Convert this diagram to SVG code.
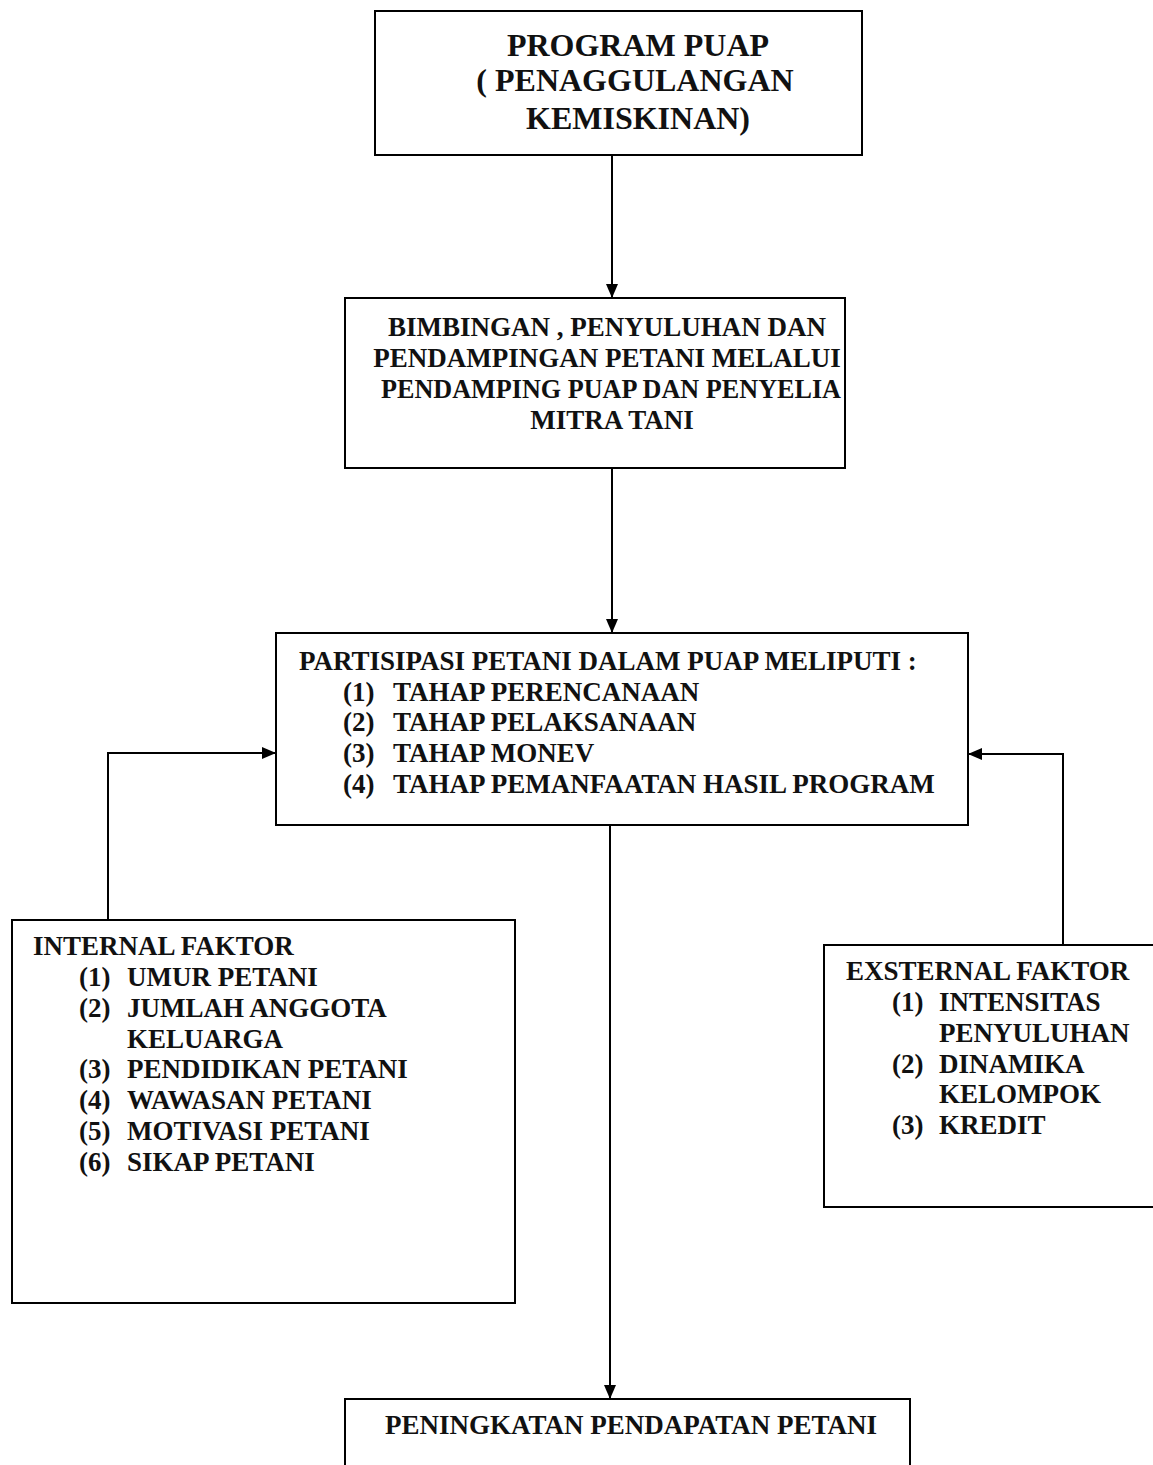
<svg xmlns="http://www.w3.org/2000/svg" width="1153" height="1465" viewBox="0 0 1153 1465">
<style>
.box{fill:#fff;stroke:#000;stroke-width:2}
.t{font-family:"Liberation Serif","Times New Roman",serif;font-weight:bold;fill:#111}
.t1{font-size:32px}
.t2{font-size:27px}
.c{text-anchor:middle}
.ln{fill:none;stroke:#000;stroke-width:2}
</style>
<defs>
<marker id="ah" viewBox="0 0 14 12" refX="14" refY="6" markerWidth="14" markerHeight="12" markerUnits="userSpaceOnUse" orient="auto">
<path d="M0,0 L14,6 L0,12 Z" fill="#000"/>
</marker>
</defs>
<rect width="1153" height="1465" fill="#fff"/>
<g id="connectors">
<line class="ln" x1="612" y1="155" x2="612" y2="298" marker-end="url(#ah)"/>
<line class="ln" x1="612" y1="468" x2="612" y2="633" marker-end="url(#ah)"/>
<polyline class="ln" points="108,920 108,753 276,753" marker-end="url(#ah)"/>
<polyline class="ln" points="1063,945 1063,754 968,754" marker-end="url(#ah)"/>
<line class="ln" x1="610" y1="825" x2="610" y2="1399" marker-end="url(#ah)"/>
</g>
<g id="node-program">
<rect class="box" x="375" y="11" width="487" height="144"/>
<text class="t t1 c" x="638" y="56">PROGRAM PUAP</text>
<text class="t t1 c" x="635" y="91">( PENAGGULANGAN</text>
<text class="t t1 c" x="638" y="129">KEMISKINAN)</text>
</g>
<g id="node-bimbingan">
<rect class="box" x="345" y="298" width="500" height="170"/>
<text class="t t2 c" x="607" y="336">BIMBINGAN , PENYULUHAN DAN</text>
<text class="t t2 c" x="607" y="367">PENDAMPINGAN PETANI MELALUI</text>
<text class="t t2" x="381" y="398" textLength="460" lengthAdjust="spacingAndGlyphs">PENDAMPING PUAP DAN PENYELIA</text>
<text class="t t2 c" x="612" y="429">MITRA TANI</text>
</g>
<g id="node-partisipasi">
<rect class="box" x="276" y="633" width="692" height="192"/>
<text class="t t2" x="299" y="670">PARTISIPASI PETANI DALAM PUAP MELIPUTI :</text>
<text class="t t2" x="343" y="701">(1)</text><text class="t t2" x="393" y="701">TAHAP PERENCANAAN</text>
<text class="t t2" x="343" y="731">(2)</text><text class="t t2" x="393" y="731">TAHAP PELAKSANAAN</text>
<text class="t t2" x="343" y="762">(3)</text><text class="t t2" x="393" y="762">TAHAP MONEV</text>
<text class="t t2" x="343" y="793">(4)</text><text class="t t2" x="393" y="793">TAHAP PEMANFAATAN HASIL PROGRAM</text>
</g>
<g id="node-internal">
<rect class="box" x="12" y="920" width="503" height="383"/>
<text class="t t2" x="33" y="955">INTERNAL FAKTOR</text>
<text class="t t2" x="79" y="986">(1)</text><text class="t t2" x="127" y="986">UMUR PETANI</text>
<text class="t t2" x="79" y="1017">(2)</text><text class="t t2" x="127" y="1017">JUMLAH ANGGOTA</text>
<text class="t t2" x="127" y="1048">KELUARGA</text>
<text class="t t2" x="79" y="1078">(3)</text><text class="t t2" x="127" y="1078">PENDIDIKAN PETANI</text>
<text class="t t2" x="79" y="1109">(4)</text><text class="t t2" x="127" y="1109">WAWASAN PETANI</text>
<text class="t t2" x="79" y="1140">(5)</text><text class="t t2" x="127" y="1140">MOTIVASI PETANI</text>
<text class="t t2" x="79" y="1171">(6)</text><text class="t t2" x="127" y="1171">SIKAP PETANI</text>
</g>
<g id="node-eksternal">
<rect class="box" x="824" y="945" width="340" height="262"/>
<text class="t t2" x="846" y="980">EXSTERNAL FAKTOR</text>
<text class="t t2" x="892" y="1011">(1)</text><text class="t t2" x="939" y="1011">INTENSITAS</text>
<text class="t t2" x="939" y="1042">PENYULUHAN</text>
<text class="t t2" x="892" y="1073">(2)</text><text class="t t2" x="939" y="1073">DINAMIKA</text>
<text class="t t2" x="939" y="1103">KELOMPOK</text>
<text class="t t2" x="892" y="1134">(3)</text><text class="t t2" x="939" y="1134">KREDIT</text>
</g>
<g id="node-peningkatan">
<rect class="box" x="345" y="1399" width="565" height="80"/>
<text class="t t2 c" x="631" y="1434">PENINGKATAN PENDAPATAN PETANI</text>
</g>
</svg>
